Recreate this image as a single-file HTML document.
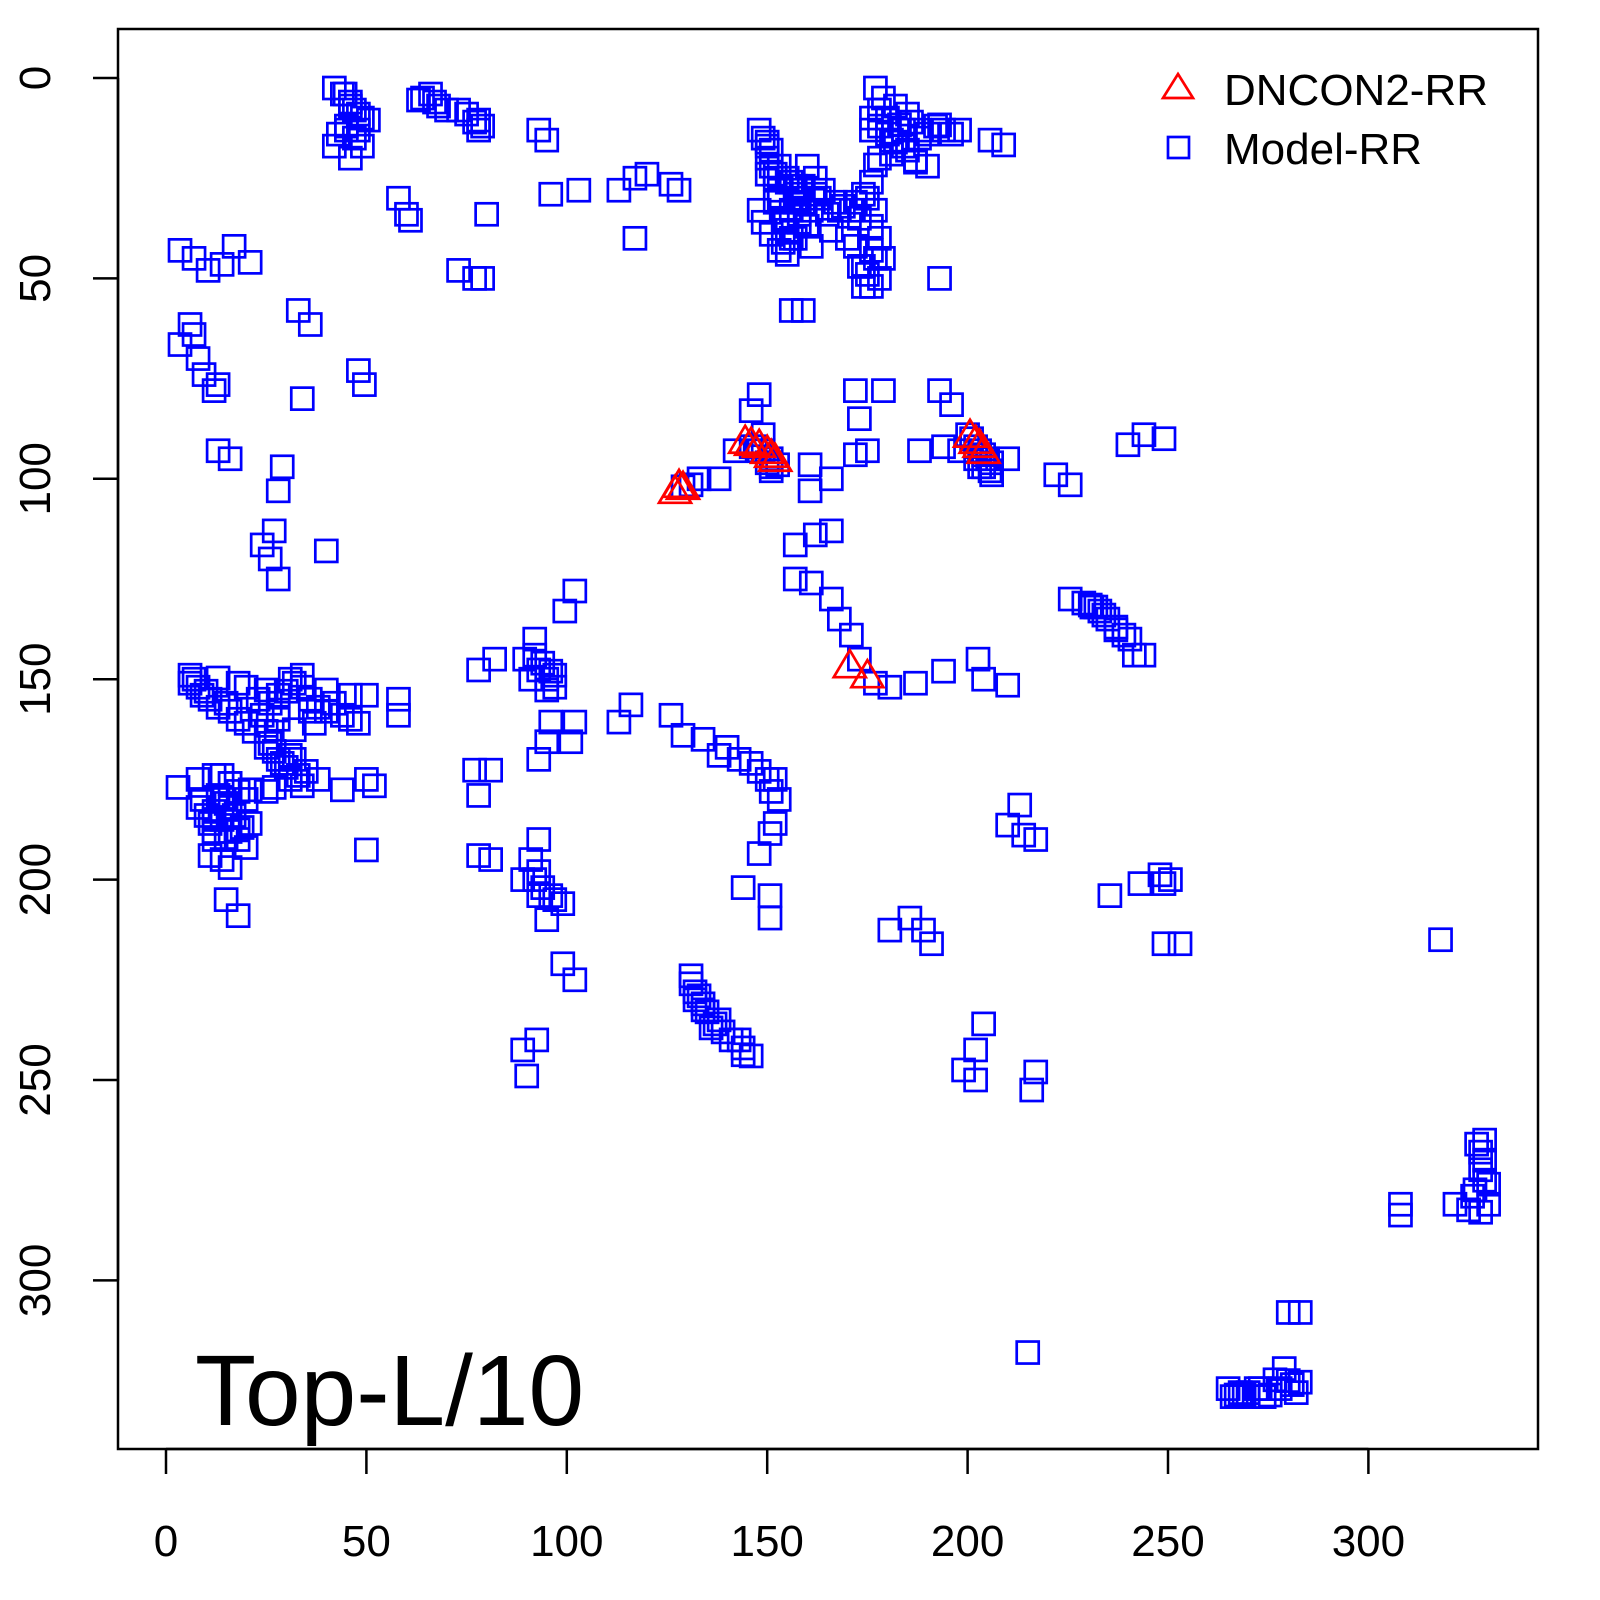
<!DOCTYPE html>
<html><head><meta charset="utf-8"><style>
html,body{margin:0;padding:0;background:#fff;}
svg{display:block;font-family:"Liberation Sans",sans-serif;}
</style></head><body>
<svg id="chart" width="1600" height="1600" viewBox="0 0 1600 1600" xmlns="http://www.w3.org/2000/svg">
<rect x="0" y="0" width="1600" height="1600" fill="#fff"/>
<g id="marks"></g>
<g id="axes"></g>
<rect x="118" y="29" width="1420" height="1420" fill="none" stroke="#000" stroke-width="2.5"/>
<g>
<polygon points="1178,74 1193,98 1163,98" fill="none" stroke="#ff0000" stroke-width="2.7"/>
<text x="1224" y="105" font-size="44" fill="#000">DNCON2-RR</text>
<rect x="1168" y="137" width="21" height="21" fill="none" stroke="#0000ff" stroke-width="2.7"/>
<text x="1224" y="164" font-size="44" fill="#000">Model-RR</text>
</g>
<text x="195" y="1425" font-size="100" fill="#000">Top-L/10</text>
</svg>
<script>
const xTicks=[0,50,100,150,200,250,300];
const yTicks=[0,50,100,150,200,250,300];
const modelX=[42,44.7,46,48,50.5,42,46,45,48,63,66,68,73,78,78,93,95,58,60,61,80,96,103,113,117,120,126,128,117,
3.5,7,10.5,14,17,21,73,77,79,33,36,3.5,7,8,9.5,12,13,6,48,49.5,34,13,16,29,28,24,26,27,28,40,
148,150,153,156,157,155,148,159,163,166,169,174,176,177,174,179,156,159,150,152,154,158,161,
177,178,176,181,183,188,193,198,187,177,193,205.6,209,180,185,
148,146,142,152.6,160.7,160.7,166,172,175,172,173,179,133,138,129,131,147,149,151,
193,196,188,194,198,205.6,210,222,225.6,240,244,249,202,204,206,
157,162,166,157,161,166,168,171,173,177,180.6,187,194,202.6,204,210,
225.6,230.6,234,237,240.5,241.6,244,232,
78,82,89.5,93,95,92,95,96,102,101,99.5,102,93,91,97,
113,116,126,129,134,138,143,148,152,153,152,150.7,148,144,150.7,150.7,140,146,
77,81,78,78,81,91,93,89,93,97,99,95,99,102,89,92.5,90,
131,132,134,138,143,144,136,
6,13,18,25,31,34,40,46,50,58,58,28,32,37,23,31,34,38,44,50,52,50,31,20,28,36,
3,8,12,16,21,12,15,11,18,21,14,16,15,18,
210,213,214,217,180.6,185.6,189,191,235.5,243,248,249,250.6,249,253,318,
204,202,199,202,217,216,329,328,326.6,325,329,321.6,308,308,280,283,215,
265,269,273,276.7,279,283,275.5,267,281,
149,150,151,152,153,154,155,156,157,158,159,160,161,162,164,165,167,168,171,172,173,175,176,177,178,
151,153,155,157,158,160,154,156,150,152,149,151,153,155,157,159,162,170,172,174,175,176,173,176,178,
176,178,180,182,184,186,188,190,192,194,196,178,181,184,187,190,179,182,185,
44,46,47,49,45,43,47,49,64,67,70,75,77,79,
7,8,9,6,10,11,13,15,16,18,20,22,24,26,28,30,32,34,36,38,40,42,44,46,48,30,32,35,29,27,25,33,
14,16,18,20,12,14,16,18,20,13,15,17,19,14,16,
9,8,10,11,12,12,25,26,27,28,25,26,
92,94,96,95,97,93,92,94,96,146,148,150,151,149,151,
131,132,133,134,135,137,139,141,144,146,150,151,
231,233,235,237,239,229,
200,201,202,203,204,205,206,203,
327,328,329,330,326,330,328,
266,268,270,272,274,278,280,282,270];
const modelY=[2.5,4,7,9,10.5,17,20,13,13,5.5,4,7,8,10.5,13,13,15.5,30,34,35.5,34,29,28,28,25,24,26.5,28,40,
43,45,48,46.5,42,46,48,50,50,58,61.5,66.5,64,70,74,78,76.5,61.5,73,76.5,80,93,95,97,103,116.5,120,113,125,118,
13,20,28,33,40,44,33,28,30,38,32,29,37,45,52,45,58,58,16,24,36,30,42,
2.5,8,13,15.5,11.7,13,11.7,13,20.5,21.7,50,15.5,16.7,10,18,
79,83,93,96.5,96.5,103,100,94,93,78,85,78,100,100,102,101.5,92,93,95,
78,81.5,93,92,93,98,95,99,101.5,91.5,89,90,95,97,99,
116.5,114,113,125,126,130,135,139,145,151,152,151,148,145,150,151.5,
130,131.5,134,137.7,140,144,144,132,
147.7,145,145,147.7,152.7,140,165.6,160.7,160.7,165.6,133,128,170,150,149,
160.7,156.4,159,164,165,169,170,173,175,180,186,188.5,193.5,202,204,209.6,167,171,
172.7,172.7,179,194,195,195,190,200,204,205,206,210,221,225,242.5,240,249,
224,230,232.5,235,240,243.7,237,
149,149.7,151,152.7,150,149,152.7,154,154,155,159,157.7,162.6,161,155,175,176.6,175,177.6,175,176.6,192.6,169,152,160,158,
177,175,174,176,177.6,185,190,194,187.6,186,180,182,205,209,
186.4,181.4,188.9,190,212.6,209.6,212.6,216,204,201,198.8,201,200,216,216,215,
236,242.5,247.5,250,248,252.5,265,272.4,277.4,282.4,275,281,281,283.7,308,308,318,
327,328.6,327,324.8,322,325.4,328.6,328.6,326,
15,17,22,25,30,35,38,26,31,36,27,22,33,25,28,34,31,33,33,31,35,30,26,33,40,
18,22,26,29,34,37,41,40,24,31,36,39,43,25,27,31,29,40,42,47,49,43,47,52,50,
10,12,14,16,13,11,15,14,12,13,14,20,19,17,21,22,5,7,9,
4,6,8,10,12,14,15,17,5,6,8,9,11,12,
150,152,154,151,153,155,157,156,158,160,161,163,159,156,154,153,151,152,155,157,158,156,159,160,161,172,170,173,171,177,178,174,
174,176,178,180,183,185,188,190,192,179,181,184,187,195,197,
180,182,184,186,188,190,163,166,168,170,167,166,
144,146,148,150,152,198,200,202,204,92,93,96,98,89,97,
226,228,229,231,233,236,238,240,242,244,175,178,
132,133,135,137,139,131,
89,90,92,93,94,95,96,97,
266,268,270,276,279,281,283,
329,328,329,327,329,327,325,328,328];
const dnconX=[128,127,129,144.5,146,148,151,152,150,200.6,203,204,202,170.6,175];
const dnconY=[101.5,103,102,90.5,91,91.5,94,95,93,89,91.5,93,90.5,146.5,149];

const sx=v=>166+4.008*v;
const sy=v=>78+4.008*v;
const NS="http://www.w3.org/2000/svg";
const marks=document.getElementById('marks');
const axes=document.getElementById('axes');

const n=Math.min(modelX.length,modelY.length);
for(let i=0;i<n;i++){
  const r=document.createElementNS(NS,'rect');
  r.setAttribute('x',sx(modelX[i])-11);
  r.setAttribute('y',sy(modelY[i])-11);
  r.setAttribute('width',22);r.setAttribute('height',22);
  r.setAttribute('fill','none');r.setAttribute('stroke','#0000ff');r.setAttribute('stroke-width','2.7');
  
  
  marks.appendChild(r);
}
for(let i=0;i<dnconX.length;i++){
  const cx=sx(dnconX[i]),cy=sy(dnconY[i]);
  const p=document.createElementNS(NS,'polygon');
  p.setAttribute('points',`${cx},${cy-15} ${cx+16},${cy+12} ${cx-16},${cy+12}`);
  p.setAttribute('fill','none');p.setAttribute('stroke','#ff0000');p.setAttribute('stroke-width','2.7');
  
  
  marks.appendChild(p);
}
function line(x1,y1,x2,y2,name){
  const l=document.createElementNS(NS,'line');
  l.setAttribute('x1',x1);l.setAttribute('y1',y1);l.setAttribute('x2',x2);l.setAttribute('y2',y2);
  l.setAttribute('stroke','#000');l.setAttribute('stroke-width','2.5');
  
  
  axes.appendChild(l);
}
line(sx(xTicks[0]),1449,sx(xTicks[xTicks.length-1]),1449,'x-axis-line');
line(118,sy(yTicks[0]),118,sy(yTicks[yTicks.length-1]),'y-axis-line');
xTicks.forEach(t=>{
  line(sx(t),1449,sx(t),1474,'x-tick');
  const tx=document.createElementNS(NS,'text');
  tx.setAttribute('x',sx(t));tx.setAttribute('y',1556);tx.setAttribute('font-size','44');tx.setAttribute('text-anchor','middle');
  tx.textContent=t;
  
  
  axes.appendChild(tx);
});
yTicks.forEach(t=>{
  line(118,sy(t),93,sy(t),'y-tick');
  const tx=document.createElementNS(NS,'text');
  tx.setAttribute('x',50);tx.setAttribute('y',sy(t));tx.setAttribute('font-size','44');tx.setAttribute('text-anchor','middle');
  tx.setAttribute('transform',`rotate(-90 50 ${sy(t)})`);
  tx.textContent=t;
  
  
  axes.appendChild(tx);
});
</script>
</body></html>
